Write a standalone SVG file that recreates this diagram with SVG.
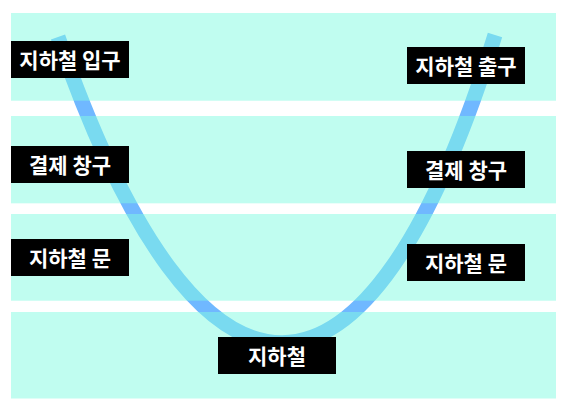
<svg xmlns="http://www.w3.org/2000/svg" width="571" height="416" viewBox="0 0 571 416">
<style>
.band{fill:#81fbe1;fill-opacity:0.5}
.box{fill:#000}
.lbl{fill:#fff;font-family:"Noto Sans CJK KR","Noto Sans",sans-serif;font-weight:bold;font-size:21px;text-anchor:middle;dominant-baseline:central}
.curve{fill:none;stroke:#70b8ff;stroke-width:15;stroke-linecap:butt}
</style>
<rect width="571" height="416" fill="#fff"/>
<g id="connectors">
<path class="curve" d="M58 37 C200 445 368 445 495 35"/>
</g>
<g id="bands">
<rect class="band" x="11" y="13" width="545" height="87.7"/>
<rect class="band" x="11" y="116" width="545" height="87.3"/>
<rect class="band" x="11" y="214" width="545" height="86.7"/>
<rect class="band" x="11" y="312" width="545" height="86.5"/>
</g>
<g id="node-entrance"><rect class="box" x="11" y="41" width="118" height="37"/><text class="lbl" x="70" y="59">지하철 입구</text></g>
<g id="node-payment-left"><rect class="box" x="11" y="146" width="118" height="37"/><text class="lbl" x="70" y="164">결제 창구</text></g>
<g id="node-door-left"><rect class="box" x="11" y="239" width="118" height="37"/><text class="lbl" x="70" y="257">지하철 문</text></g>
<g id="node-exit"><rect class="box" x="407" y="47" width="118" height="37"/><text class="lbl" x="466" y="65">지하철 출구</text></g>
<g id="node-payment-right"><rect class="box" x="407" y="151" width="118" height="37"/><text class="lbl" x="466" y="169">결제 창구</text></g>
<g id="node-door-right"><rect class="box" x="407" y="244" width="118" height="37"/><text class="lbl" x="466" y="262">지하철 문</text></g>
<g id="node-subway"><rect class="box" x="218" y="337" width="118" height="37"/><text class="lbl" x="277" y="355">지하철</text></g>
</svg>
